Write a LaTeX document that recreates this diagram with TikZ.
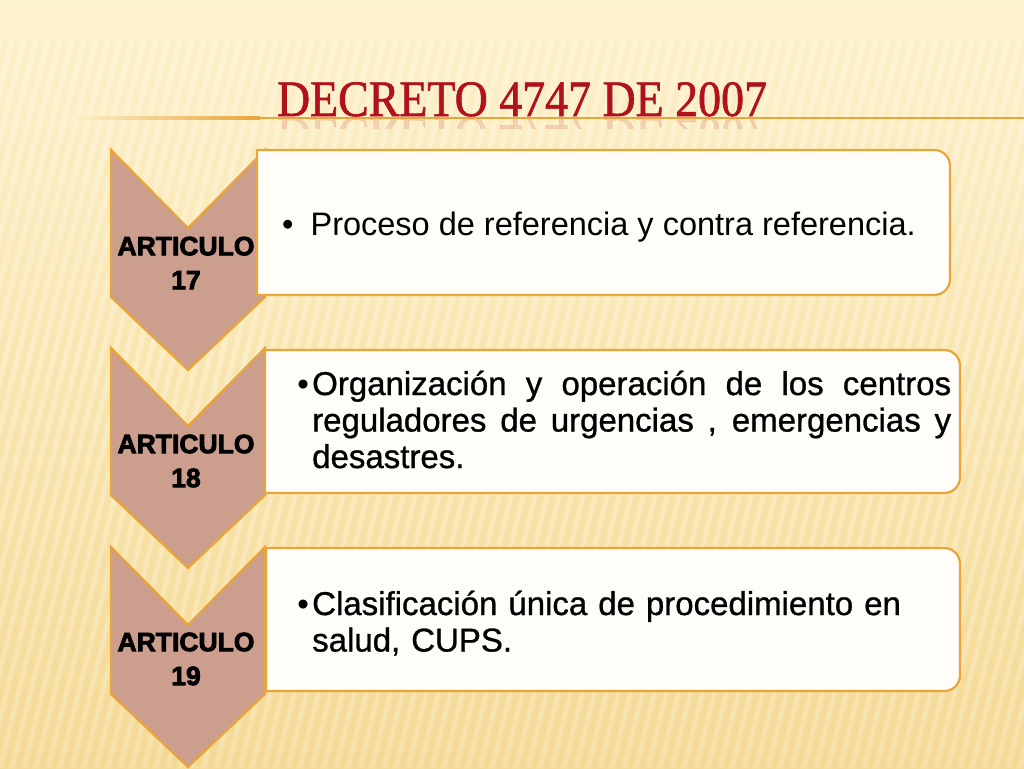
\documentclass[tikz,border=0pt]{standalone}
\usepackage{fontspec}
\usepackage{graphicx}
\setmainfont{Liberation Sans}
\newfontfamily\titlefont[FakeStretch=0.9,FakeBold=1.2]{Liberation Serif}
\newfontfamily\labelfont[FakeBold=3]{Liberation Sans Bold}
\newfontfamily\medfont[FakeBold=0.9]{Liberation Sans}
\hyphenpenalty=10000
\exhyphenpenalty=10000
\definecolor{bgtop}{HTML}{FEF3CF}
\definecolor{bgbot}{HTML}{F5DB97}
\definecolor{chev}{HTML}{CB9E8D}
\definecolor{gold}{HTML}{E9A43A}
\definecolor{boxfill}{HTML}{FFFDF8}
\definecolor{titlered}{HTML}{B0111A}
\tikzset{
  chevstyle/.style={fill=chev, draw=gold, line width=2.2pt, line join=miter},
  boxline/.style={fill=boxfill, draw=gold, line width=2.2pt},
  artlabel/.style={font=\labelfont\fontsize{26.5}{34}\selectfont, align=center, inner sep=0pt, text=black},
  bodytext/.style={font=\fontsize{32.5}{38}\selectfont, inner sep=0pt, text=black},
  medtext/.style={font=\medfont\fontsize{33}{36.5}\selectfont, inner sep=0pt, text=black, text width=639pt},
  bulletnode/.style={font=\fontsize{33}{36}\selectfont, inner sep=0pt, text=black}
}
\newcommand\rbox[4]{%
  \draw[boxline] (#1,#2) -- ({#3-16},#2) .. controls ({#3-7},#2) and (#3,{#2+7}) .. (#3,{#2+16})
    -- (#3,{#4-16}) .. controls (#3,{#4-7}) and ({#3-7},#4) .. ({#3-16},#4) -- (#1,#4) -- cycle;}
\newcommand\chevron[1]{%
  \draw[chevstyle] (111,#1) -- (188,{#1+78}) -- (265,#1) -- (265,{#1+147}) -- (188,{#1+220}) -- (111,{#1+147}) -- cycle;}
\begin{document}
\begin{tikzpicture}[x=1pt,y=-1pt]
\useasboundingbox (0,0) rectangle (1024,768);
% background
\shade[top color=bgtop, bottom color=bgbot] (0,0) rectangle (1024,768);
\fill[bgtop, opacity=0.6] (0,0) rectangle (1024,40);
\begin{scope}
  \clip (0,40) rectangle (1024,768);
  \foreach \x in {-240,-228,...,1100}{
    \draw[white, opacity=0.22, line width=4pt] (\x+180,40) -- (\x,768);
    \draw[bgbot!70!brown, opacity=0.06, line width=3pt] (\x+186,40) -- (\x+6,768);
  }
\end{scope}
% title
\node[anchor=base, font=\titlefont\fontsize{51}{51}\selectfont, text=titlered, inner sep=0pt] (title) at (522,116) {DECRETO 4747 DE 2007};
\begin{scope}
  \clip (250,119) rectangle (800,128);
  \node[anchor=base, font=\titlefont\fontsize{51}{51}\selectfont, text=titlered, inner sep=0pt, opacity=0.13] (titlerefl) at (522,118) {\scalebox{1}[-1]{DECRETO 4747 DE 2007}};
\end{scope}
\shade[left color=bgtop, right color=gold] (65,116.8) rectangle (260,119.2);
\fill[gold] (260,116.8) rectangle (1024,119.2);
% chevrons
\chevron{150}
\chevron{348}
\chevron{547}
% boxes
\rbox{257}{150}{950}{295}
\rbox{265}{350}{960}{493}
\rbox{266}{548}{960}{691}
% labels
\node[artlabel] (a17) at (186,263) {ARTICULO\\17};
\node[artlabel] (a18) at (186,461) {ARTICULO\\18};
\node[artlabel] (a19) at (186,659) {ARTICULO\\19};
% texts
\node[bodytext, anchor=base west] (t1) at (282,235) {•\hspace{17pt}Proceso de referencia y contra referencia.};
\node[bulletnode, anchor=base east] (b2) at (309,395) {•};
\node[medtext, anchor=base west, align=justify] (t2) at (312,395) {Organización y operación de los centros reguladores de urgencias , emergencias y desastres.};
\node[bulletnode, anchor=base east] (b3) at (309,615) {•};
\node[medtext, anchor=base west, align=left] (t3) at (312,615) {Clasificación única de procedimiento en salud, CUPS.};
\end{tikzpicture}
\end{document}
